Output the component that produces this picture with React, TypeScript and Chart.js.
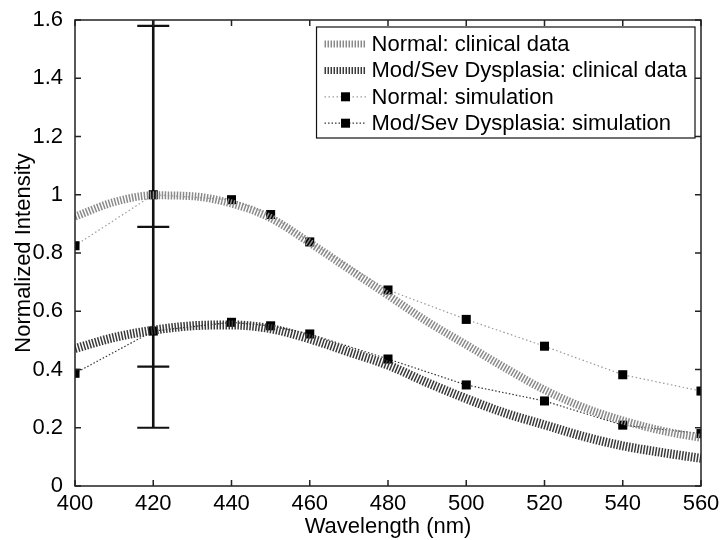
import React, { useEffect, useRef } from "react";
import { Chart, registerables } from "chart.js";

Chart.register(...registerables);

// ---- Data ----
const clinicalWavelengths = [400, 410, 420, 430, 440, 450, 460, 470, 480, 490, 500, 510, 520, 530, 540, 550, 560];
const normalClinical = [0.925, 0.975, 0.998, 0.995, 0.97, 0.92, 0.835, 0.745, 0.655, 0.565, 0.485, 0.405, 0.33, 0.27, 0.225, 0.19, 0.165];
const dysplasiaClinical = [0.472, 0.51, 0.535, 0.55, 0.553, 0.54, 0.505, 0.46, 0.415, 0.355, 0.3, 0.25, 0.21, 0.17, 0.138, 0.115, 0.095];

const simWavelengths = [400, 420, 440, 450, 460, 480, 500, 520, 540, 560];
const normalSim = [0.825, 1.0, 0.983, 0.932, 0.838, 0.673, 0.572, 0.48, 0.382, 0.326];
const dysplasiaSim = [0.387, 0.532, 0.562, 0.55, 0.522, 0.436, 0.347, 0.292, 0.209, 0.18];

const errorBarX = 420;
const errorBarCaps = [1.58, 0.89, 0.41, 0.2];
const errorBarTop = 1.6;

const xTicks = [400, 420, 440, 460, 480, 500, 520, 540, 560];
const yTicks = [0, 0.2, 0.4, 0.6, 0.8, 1, 1.2, 1.4, 1.6];

const seriesLabels = [
  "Normal: clinical data",
  "Mod/Sev Dysplasia: clinical data",
  "Normal: simulation",
  "Mod/Sev Dysplasia: simulation",
];

const FONT = "'Liberation Sans', Arial, Helvetica, sans-serif";

const toPoints = (xs: number[], ys: number[]) => xs.map((x, i) => ({ x, y: ys[i] }));

const framePlugin = {
  id: "matlabFrame",
  beforeDatasetsDraw(chart: any) {
    const { ctx, scales } = chart;
    const x = scales.x;
    const y = scales.y;
    ctx.save();
    ctx.strokeStyle = "#111";
    const ex = x.getPixelForValue(errorBarX);
    ctx.lineWidth = 2.6;
    ctx.beginPath();
    ctx.moveTo(ex, y.getPixelForValue(Math.min(...errorBarCaps)));
    ctx.lineTo(ex, y.getPixelForValue(errorBarTop));
    ctx.stroke();
    ctx.lineWidth = 2.2;
    for (const c of errorBarCaps) {
      const py = y.getPixelForValue(c);
      ctx.beginPath();
      ctx.moveTo(ex - 16, py);
      ctx.lineTo(ex + 16, py);
      ctx.stroke();
    }
    ctx.restore();
  },
  afterDatasetsDraw(chart: any) {
    const { ctx, chartArea: a, scales } = chart;
    const x = scales.x;
    const y = scales.y;
    ctx.save();
    ctx.strokeStyle = "#222";
    ctx.lineWidth = 1.5;
    ctx.strokeRect(a.left, a.top, a.right - a.left, a.bottom - a.top);
    ctx.beginPath();
    for (const v of xTicks) {
      const px = x.getPixelForValue(v);
      ctx.moveTo(px, a.bottom);
      ctx.lineTo(px, a.bottom - 6);
      ctx.moveTo(px, a.top);
      ctx.lineTo(px, a.top + 6);
    }
    for (const v of yTicks) {
      const py = y.getPixelForValue(v);
      ctx.moveTo(a.left, py);
      ctx.lineTo(a.left + 6, py);
      ctx.moveTo(a.right, py);
      ctx.lineTo(a.right - 6, py);
    }
    ctx.stroke();
    ctx.restore();
  },
  afterDraw(chart: any) {
    const { ctx, chartArea: a } = chart;
    const ds = chart.data.datasets;
    ctx.save();
    ctx.font = `22px ${FONT}`;
    let maxW = 0;
    for (const d of ds) maxW = Math.max(maxW, ctx.measureText(d.label).width);
    const boxW = 55 + maxW + 8;
    const boxH = 111;
    const right = a.right - 6;
    const left = right - boxW;
    const top = a.top + 7;
    ctx.fillStyle = "#fff";
    ctx.fillRect(left, top, boxW, boxH);
    ctx.strokeStyle = "#111";
    ctx.lineWidth = 1.2;
    ctx.strokeRect(left, top, boxW, boxH);
    ds.forEach((d: any, i: number) => {
      const cy = top + 17 + i * 26.4;
      ctx.save();
      ctx.strokeStyle = d.borderColor;
      ctx.lineWidth = i < 2 ? 7 : d.borderWidth;
      ctx.setLineDash(d.borderDash || []);
      ctx.beginPath();
      ctx.moveTo(left + 8, cy);
      ctx.lineTo(left + 50, cy);
      ctx.stroke();
      ctx.restore();
      if (d.pointRadius > 0) {
        ctx.fillStyle = "#000";
        ctx.fillRect(left + 29 - 4.5, cy - 4.5, 9, 9);
      }
      ctx.fillStyle = "#000";
      ctx.textBaseline = "middle";
      ctx.textAlign = "left";
      ctx.fillText(d.label, left + 55, cy + 1);
    });
    ctx.restore();
  },
};

export default function App() {
  const ref = useRef<HTMLCanvasElement | null>(null);
  useEffect(() => {
    document.body.style.margin = "0";
    const canvas = ref.current;
    if (!canvas) return;
    const chart = new Chart(canvas, {
      type: "line",
      data: {
        datasets: [
          {
            label: seriesLabels[0],
            data: toPoints(clinicalWavelengths, normalClinical),
            borderColor: "#8a8a8a",
            borderWidth: 8,
            borderDash: [1.5, 1.5],
            borderCapStyle: "butt",
            pointRadius: 0,
            cubicInterpolationMode: "monotone",
            fill: false,
          },
          {
            label: seriesLabels[1],
            data: toPoints(clinicalWavelengths, dysplasiaClinical),
            borderColor: "#3a3a3a",
            borderWidth: 9,
            borderDash: [1.5, 1.5],
            borderCapStyle: "butt",
            pointRadius: 0,
            cubicInterpolationMode: "monotone",
            fill: false,
          },
          {
            label: seriesLabels[2],
            data: toPoints(simWavelengths, normalSim),
            borderColor: "#9a9a9a",
            borderWidth: 1.2,
            borderDash: [1.5, 2.5],
            pointStyle: "rect",
            pointRadius: 6.4,
            pointBackgroundColor: "#000",
            pointBorderColor: "#000",
            pointBorderWidth: 0,
            tension: 0,
            fill: false,
          },
          {
            label: seriesLabels[3],
            data: toPoints(simWavelengths, dysplasiaSim),
            borderColor: "#333",
            borderWidth: 1.2,
            borderDash: [1.5, 2],
            pointStyle: "rect",
            pointRadius: 6.4,
            pointBackgroundColor: "#000",
            pointBorderColor: "#000",
            pointBorderWidth: 0,
            tension: 0,
            fill: false,
          },
        ],
      },
      options: {
        animation: false,
        responsive: false,
        maintainAspectRatio: false,
        events: [],
        layout: { padding: { top: 20, right: 21, left: 0, bottom: 0 } },
        plugins: {
          legend: { display: false },
          tooltip: { enabled: false },
        },
        scales: {
          x: {
            type: "linear",
            min: 400,
            max: 560,
            afterFit: (s: any) => {
              s.height = 54;
            },
            afterBuildTicks: (s: any) => {
              s.ticks = xTicks.map((v) => ({ value: v }));
            },
            grid: { display: false },
            border: { display: false },
            ticks: {
              autoSkip: false,
              maxRotation: 0,
              padding: -3,
              color: "#000",
              font: { family: FONT, size: 22 },
              callback: (v: any) => String(v),
            },
            title: {
              display: true,
              text: "Wavelength (nm)",
              color: "#000",
              font: { family: FONT, size: 22 },
              padding: { top: 0, bottom: 0 },
            },
          },
          y: {
            type: "linear",
            min: 0,
            max: 1.6,
            afterFit: (s: any) => {
              s.width = 75;
            },
            afterBuildTicks: (s: any) => {
              s.ticks = yTicks.map((v) => ({ value: v }));
            },
            grid: { display: false },
            border: { display: false },
            ticks: {
              autoSkip: false,
              padding: 4,
              color: "#000",
              font: { family: FONT, size: 22 },
              callback: (v: any) => String(Math.round(v * 10) / 10),
            },
            title: {
              display: true,
              text: "Normalized Intensity",
              color: "#000",
              font: { family: FONT, size: 22 },
              padding: { top: 11, bottom: 0 },
            },
          },
        },
      },
      plugins: [framePlugin],
    } as any);
    return () => chart.destroy();
  }, []);
  return <canvas ref={ref} width={722} height={540} style={{ display: "block" }} />;
}
